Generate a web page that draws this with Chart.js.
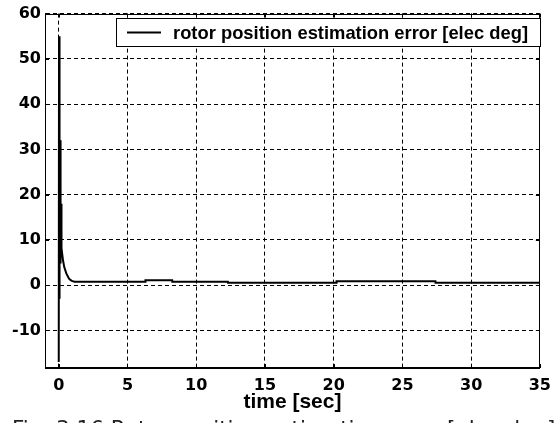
<!DOCTYPE html>
<html>
<head>
<meta charset="utf-8">
<script src="https://cdn.jsdelivr.net/npm/chart.js@4.4.1/dist/chart.umd.min.js"></script>
<style>
  html, body { margin: 0; padding: 0; background: #fff; overflow: hidden; }
  #wrap { position: relative; width: 559px; height: 423px; }
  canvas { display: block; }
</style>
</head>
<body>
<div id="wrap"><canvas id="c" width="559" height="423"></canvas></div>
<script>
// Rotor position estimation error vs. time
const timeSec = [
  0, 0.02, 0.035, 0.05, 0.065, 0.08, 0.095, 0.11, 0.125, 0.14, 0.155, 0.17,
  0.2, 0.25, 0.31, 0.4, 0.55, 0.7, 0.79, 0.95, 1.15, 2,
  6.3, 6.31, 8.25, 8.26, 12.3, 12.31, 20.2, 20.21, 27.4, 27.41, 35
];
const errorDeg = [
  -17, 55, -3, 50, 3, 34, 5, 32, 7, 21, 8, 18,
  8.2, 6.9, 5.5, 4.0, 2.6, 1.7, 1.3, 0.95, 0.78, 0.75,
  0.75, 1.1, 1.1, 0.75, 0.75, 0.55, 0.55, 0.85, 0.85, 0.55, 0.55
];
const xTicks = [0, 5, 10, 15, 20, 25, 30, 35];
const yTicks = [-10, 0, 10, 20, 30, 40, 50, 60];

const legendText = 'rotor position estimation error [elec deg]';
const xTitle = 'time [sec]';
const captionText = 'Fig. 3.16 Rotor position estimation error [elec deg]';

const tickFont = { family: 'DejaVu Sans', size: 16, weight: 'bold' };

// frame, inward tick marks, legend box and figure caption
const decorations = {
  id: 'decorations',
  afterDatasetsDraw(chart) {
    const { ctx, chartArea: a, scales: { x, y } } = chart;
    ctx.save();
    ctx.strokeStyle = '#000';
    ctx.lineWidth = 1;
    ctx.setLineDash([]);
    ctx.strokeRect(Math.round(a.left) + 0.5, Math.round(a.top) + 0.5,
                   Math.round(a.right - a.left) - 1, Math.round(a.bottom - a.top) - 1);
    const tl = 4;
    ctx.beginPath();
    xTicks.forEach(v => {
      const px = Math.round(x.getPixelForValue(v)) + 0.5;
      ctx.moveTo(px, a.top); ctx.lineTo(px, a.top + tl);
      ctx.moveTo(px, a.bottom); ctx.lineTo(px, a.bottom - tl);
    });
    yTicks.forEach(v => {
      const py = Math.round(y.getPixelForValue(v)) + 0.5;
      ctx.moveTo(a.right, py); ctx.lineTo(a.right - tl, py);
      ctx.moveTo(a.left, py); ctx.lineTo(a.left + tl, py);
    });
    ctx.stroke();

    // legend
    const bx = 116.5, by = 18.5, bw = 424, bh = 28;
    ctx.fillStyle = '#fff';
    ctx.fillRect(bx, by, bw, bh);
    ctx.strokeRect(bx, by, bw, bh);
    ctx.lineWidth = 2;
    ctx.beginPath();
    ctx.moveTo(127, by + bh / 2);
    ctx.lineTo(161, by + bh / 2);
    ctx.stroke();
    ctx.fillStyle = '#000';
    ctx.font = 'bold 19px "Liberation Sans", sans-serif';
    ctx.textBaseline = 'middle';
    ctx.textAlign = 'left';
    const tw = ctx.measureText(legendText).width;
    ctx.save();
    ctx.translate(173, by + bh / 2 + 1);
    ctx.scale(355 / tw, 1);
    ctx.fillText(legendText, 0, 0);
    ctx.restore();

    // caption under the figure
    ctx.fillStyle = '#222';
    ctx.font = '21.5px "DejaVu Sans", sans-serif';
    ctx.textBaseline = 'alphabetic';
    ctx.fillText(captionText, 12, 436);
    ctx.restore();
  }
};

new Chart(document.getElementById('c'), {
  type: 'line',
  data: {
    datasets: [{
      data: timeSec.map((t, i) => ({ x: t, y: errorDeg[i] })),
      borderColor: '#000',
      borderWidth: 2,
      pointRadius: 0,
      tension: 0,
      fill: false
    }]
  },
  options: {
    responsive: false,
    animation: false,
    devicePixelRatio: 1,
    layout: { padding: { left: 0, top: 13, right: 12, bottom: 0 } },
    plugins: { legend: { display: false }, tooltip: { enabled: false } },
    scales: {
      x: {
        type: 'linear',
        min: -1,
        max: 35,
        afterBuildTicks: s => { s.ticks = xTicks.map(v => ({ value: v })); },
        afterFit: s => { s.height = 55; },
        ticks: { font: tickFont, color: '#000', padding: 8, maxRotation: 0 },
        grid: { color: '#000', lineWidth: 1, drawTicks: false },
        border: { display: true, color: '#000', width: 1, dash: [4, 3] },
        title: {
          display: true, text: xTitle, color: '#000',
          font: { family: 'Liberation Sans', size: 21, weight: 'bold' },
          padding: { top: 0, bottom: 8 }
        }
      },
      y: {
        type: 'linear',
        min: -18.3,
        max: 60,
        afterBuildTicks: s => { s.ticks = yTicks.map(v => ({ value: v })); },
        afterFit: s => { s.width = 45; },
        ticks: { font: tickFont, color: '#000', padding: 4 },
        grid: { color: '#000', lineWidth: 1, drawTicks: false },
        border: { display: true, color: '#000', width: 1, dash: [4, 3] }
      }
    }
  },
  plugins: [decorations]
});
</script>
</body>
</html>
